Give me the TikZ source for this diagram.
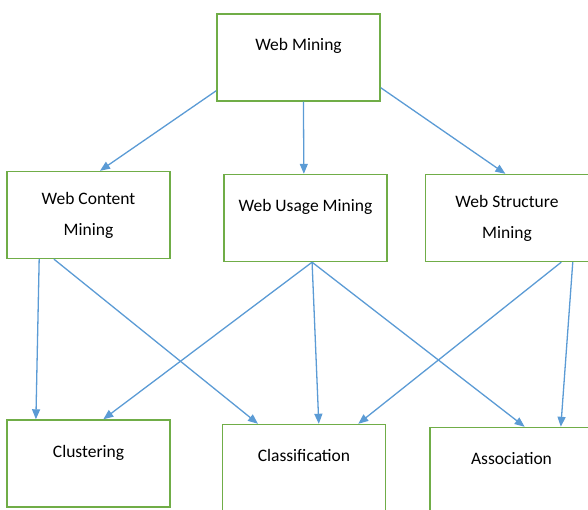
\documentclass[tikz,border=0pt]{standalone}
\usepackage{fontspec}
\setmainfont{Carlito}
\usetikzlibrary{calc}
\usetikzlibrary{arrows.meta}
\definecolor{boxgreen}{HTML}{70AD47}
\definecolor{arrblue}{HTML}{5B9BD5}
\tikzset{
    box/.style={draw=boxgreen, line width=1.4pt, minimum width=163pt, minimum height=87pt, align=center, inner sep=0pt, font=\fontsize{17.5}{31}\selectfont},
    oneline/.style={text height=13pt, text depth=26pt},
    twoline/.style={},
    arr/.style={draw=arrblue, line width=1.3pt, -{Triangle[length=10pt,width=8pt]}}
}
\begin{document}
\begin{tikzpicture}[x=1pt,y=-1pt]
\useasboundingbox (0,0) rectangle (588,510);
\clip (0,0) rectangle (588,510);
\foreach \x/\y/\p/\s/\t in {298.5/57.5/wm/oneline/{Web Mining}, 88.5/215/wc/twoline/{Web Content\\Mining}, 305.5/218/wu/oneline/{Web Usage Mining}, 507/218/ws/twoline/{Web Structure\\Mining}, 88.5/463.5/cl/oneline/{Clustering}, 304/468/ca/oneline/{Classification}, 511.5/471/as/oneline/{Association}}{
\node[box,\s] (\p) at (\x,\y) {\t};
}
% first level
\draw[arr] ($(wm.south west)+(0,-11)$) -- ($(wc.north west)!.57!(wc.north east)$);
\draw[arr] ($(wm.south west)!.53!(wm.south east)$) -- ($(wu.north west)!.49!(wu.north east)$);
\draw[arr] ($(wm.south east)+(0,-14)$) -- ($(ws.north west)!.49!(ws.north east)$);
% second level
\draw[arr] ($(wc.south west)!.2!(wc.south east)$) -- ($(cl.north west)!.18!(cl.north east)$);
\draw[arr] ($(wc.south west)!.29!(wc.south east)$) -- ($(ca.north west)!.22!(ca.north east)$);
\draw[arr] ($(wu.south west)!.54!(wu.south east)$) -- ($(cl.north west)!.59!(cl.north east)$);
\draw[arr] ($(wu.south west)!.54!(wu.south east)$) -- ($(ca.north west)!.59!(ca.north east)$);
\draw[arr] ($(wu.south west)!.54!(wu.south east)$) -- ($(as.north west)!.58!(as.north east)$);
\draw[arr] ($(ws.south west)!.83!(ws.south east)$) -- ($(ca.north west)!.83!(ca.north east)$);
\draw[arr] ($(ws.south west)!.9!(ws.south east)$) -- ($(as.north west)!.8!(as.north east)$);
\end{tikzpicture}
\end{document}
